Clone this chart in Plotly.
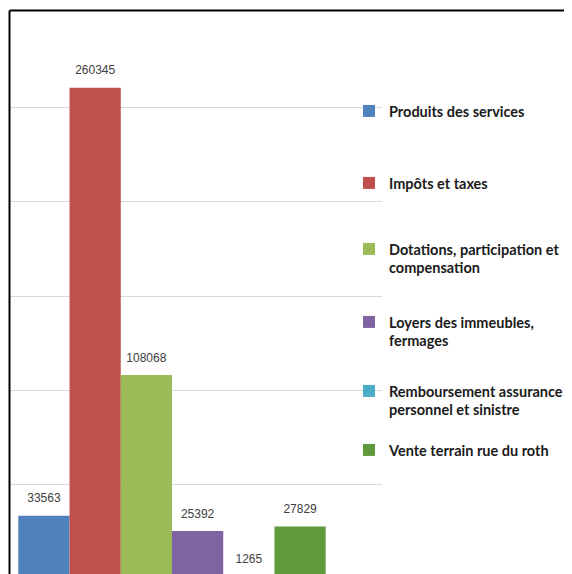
import plotly.graph_objects as go

# ---- data ----
categories = [
    "Produits des services",
    "Impôts et taxes",
    "Dotations, participation et compensation",
    "Loyers des immeubles, fermages",
    "Remboursement assurance personnel et sinistre",
    "Vente terrain rue du roth",
]
legend_names = [
    "Produits des services",
    "Impôts et taxes",
    "Dotations, participation et<br>compensation",
    "Loyers des immeubles,<br>fermages",
    "Remboursement assurance<br>personnel et sinistre",
    "Vente terrain rue du roth",
]
values = [33563, 260345, 108068, 25392, 1265, 27829]
colors = ["#4F81BD", "#C0504D", "#9BBB59", "#8064A2", "#4BACC6", "#5E9A3B"]
grid_ticks = [50000, 100000, 150000, 200000, 250000]

# legend first-line centres (px from top of the page)
legend_centers = [111, 183, 249, 322, 391, 450]

OFF = 8                      # page body margin
W, H = 572 - OFF, 574 - OFF  # figure size
ML, MR, MT, MB = 2, 190, 5, 0
plot_w = W - ML - MR
plot_h = H - MT - MB

fig = go.Figure()
positions = list(range(len(values)))
legend_font = dict(family="Lato, sans-serif", size=14.5, color="#1a1a1a", weight="bold")

for i, (name, lname, v, c) in enumerate(zip(categories, legend_names, values, colors)):
    lid = "legend" if i == 0 else f"legend{i+1}"
    fig.add_trace(go.Bar(
        x=[positions[i]], y=[v], width=1, name=lname,
        marker=dict(color=c, line=dict(width=0)),
        legend=lid, hoverinfo="name+y",
    ))

fig.add_trace(go.Scatter(
    x=positions, y=values, text=[str(v) for v in values],
    mode="markers+text", textposition="top center",
    marker=dict(size=15, opacity=0),
    textfont=dict(family="Liberation Sans, Arial, sans-serif", size=12, color="#404040"),
    showlegend=False, hoverinfo="skip",
))

layout_legends = {}
for i, cy in enumerate(legend_centers):
    lid = "legend" if i == 0 else f"legend{i+1}"
    top_px = cy - 16 - OFF
    layout_legends[lid] = dict(
        x=(341 - ML) / plot_w, xanchor="left",
        y=(H - MB - top_px) / plot_h, yanchor="top",
        bgcolor="rgba(0,0,0,0)", borderwidth=0,
        font=legend_font, valign="top", tracegroupgap=0,
    )

fig.update_layout(
    width=W, height=H,
    margin=dict(l=ML, r=MR, t=MT, b=MB, autoexpand=False),
    paper_bgcolor="white", plot_bgcolor="white",
    barmode="overlay",
    xaxis=dict(visible=False, range=[-0.662, 6.599]),
    yaxis=dict(range=[2649, 300000], showticklabels=False, ticks="",
               tickvals=grid_ticks, showgrid=True, gridcolor="#D9D9D9", gridwidth=1,
               zeroline=False, showline=False),
    shapes=[
        dict(type="line", xref="paper", yref="paper",
             x0=(1.5 - ML) / plot_w, x1=(W + 5 - ML) / plot_w,
             y0=(H - 2.5) / plot_h, y1=(H - 2.5) / plot_h,
             line=dict(color="black", width=2)),
        dict(type="line", xref="paper", yref="paper",
             x0=(1.5 - ML) / plot_w, x1=(1.5 - ML) / plot_w,
             y0=(H - 2.5) / plot_h, y1=-0.05,
             line=dict(color="black", width=2)),
    ],
    **layout_legends,
)

fig.write_html("out.html")
